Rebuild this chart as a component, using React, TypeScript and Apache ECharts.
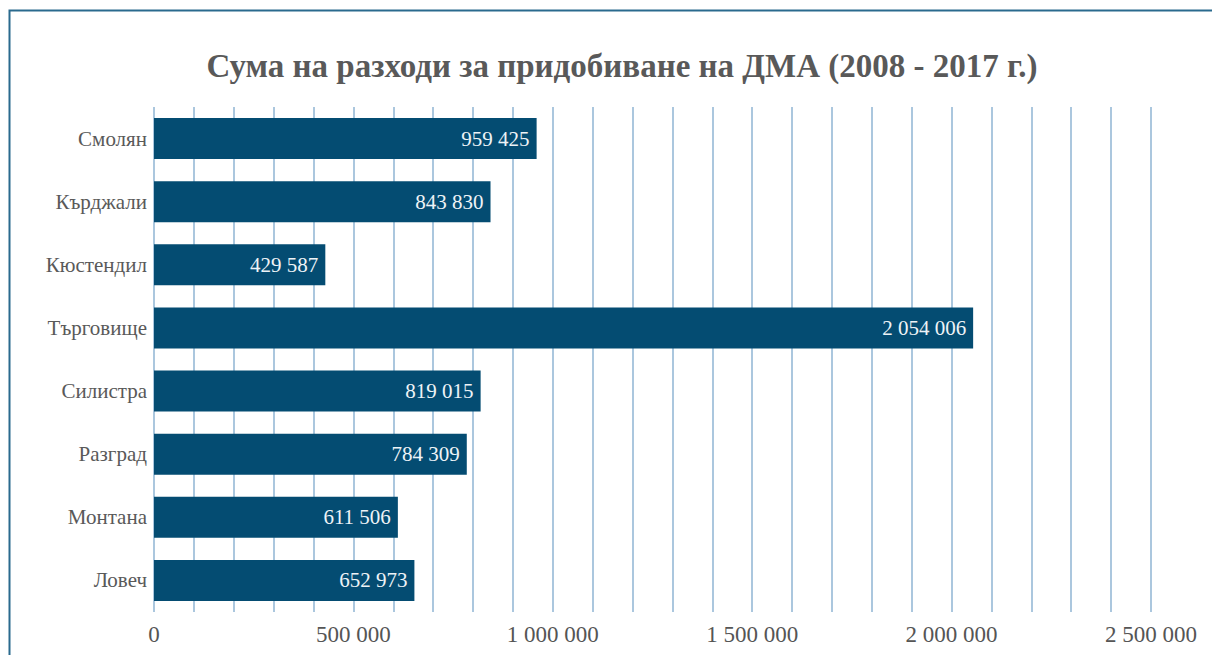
import React, { useEffect, useRef } from "react";
import * as echarts from "echarts";

const categories = ["Смолян", "Кърджали", "Кюстендил", "Търговище", "Силистра", "Разград", "Монтана", "Ловеч"];
const values = [959425, 843830, 429587, 2054006, 819015, 784309, 611506, 652973];
const titleText = "Сума на разходи за придобиване на ДМА (2008 - 2017 г.)";

const fmt = (v: number) => String(Math.round(v)).replace(/\B(?=(\d{3})+(?!\d))/g, " ");

export default function App() {
  const ref = useRef<HTMLDivElement>(null);
  useEffect(() => {
    const chart = echarts.init(ref.current!, null, { renderer: "svg" });
    const font = "'Liberation Serif', 'DejaVu Serif', serif";
    chart.setOption({
      animation: false,
      backgroundColor: "#ffffff",
      title: {
        text: titleText,
        left: 617,
        textAlign: "center",
        top: 44,
        textStyle: { fontFamily: font, fontSize: 33, fontWeight: "bold", color: "#595959" },
      },
      graphic: [
        {
          type: "rect",
          shape: { x: 9.5, y: 10.5, width: 1240, height: 700 },
          style: { fill: "none", stroke: "#2a6a8e", lineWidth: 2 },
          silent: true,
        },
      ],
      grid: { left: 154, right: 1212 - 1151, top: 107, bottom: 655 - 612, containLabel: false },
      xAxis: {
        type: "value",
        min: 0,
        max: 2500000,
        interval: 100000,
        axisLine: { show: false },
        axisTick: { show: false },
        splitLine: { show: true, lineStyle: { color: "#8fb5d3", width: 1.5 } },
        axisLabel: {
          fontFamily: font,
          fontSize: 23,
          color: "#555555",
          margin: 11,
          formatter: (v: number) => (v % 500000 === 0 ? fmt(v) : ""),
        },
      },
      yAxis: {
        type: "category",
        data: categories,
        inverse: true,
        axisLine: { show: false },
        axisTick: { show: false },
        axisLabel: { fontFamily: font, fontSize: 21, color: "#595959", margin: 7 },
      },
      series: [
        {
          type: "bar",
          data: values,
          barWidth: "65%",
          itemStyle: { color: "#044c72" },
          label: {
            show: true,
            position: "insideRight",
            distance: 7,
            fontFamily: font,
            fontSize: 21,
            color: "#eef3f7",
            formatter: (p: any) => fmt(p.value),
          },
        },
      ],
    });
    return () => chart.dispose();
  }, []);
  return <div ref={ref} style={{ position: "fixed", left: 0, top: 0, width: 1212, height: 655 }} />;
}
